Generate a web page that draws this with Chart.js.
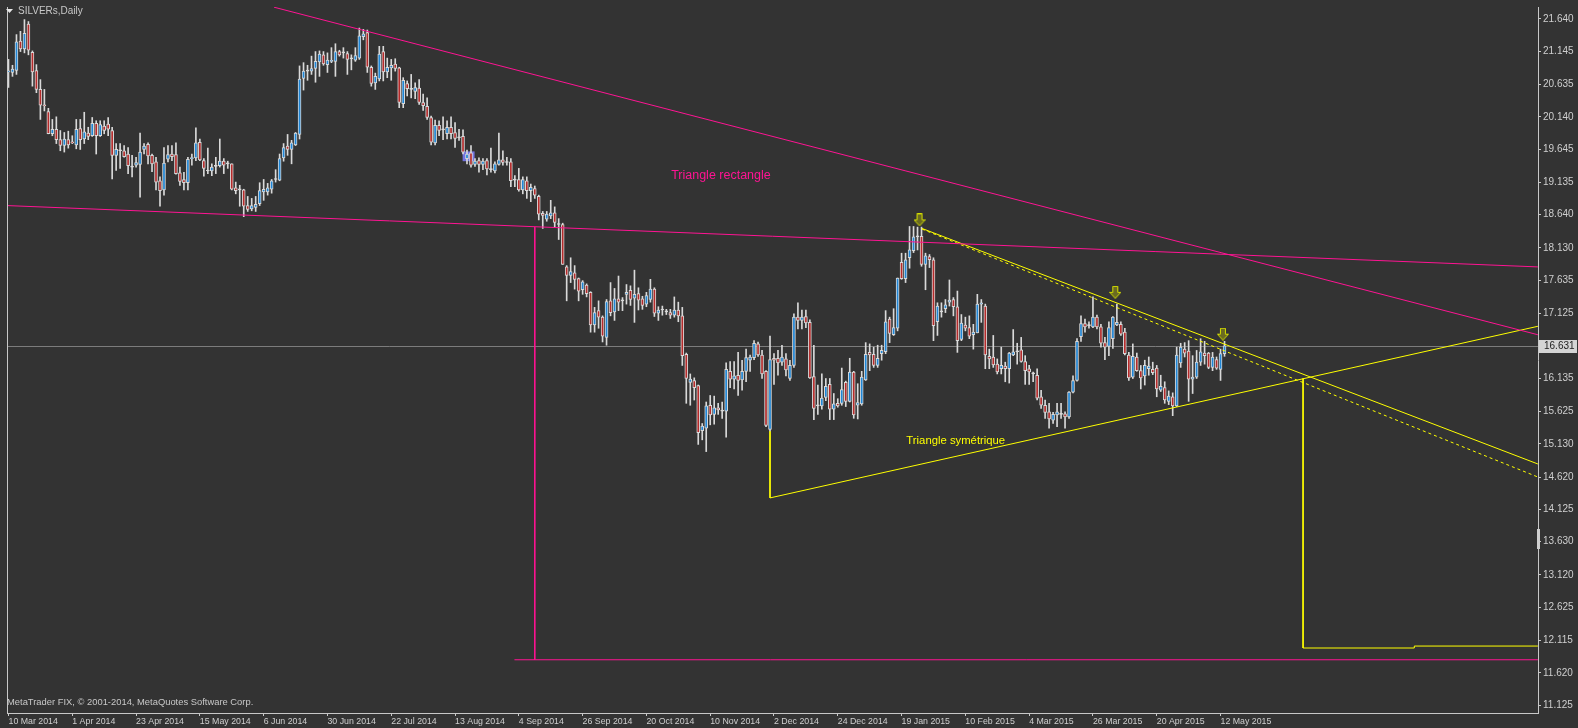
<!DOCTYPE html>
<html>
<head>
<meta charset="utf-8">
<title>SILVERs,Daily</title>
<script src="https://cdn.jsdelivr.net/npm/chart.js@4.4.1/dist/chart.umd.min.js"></script>
<style>
  html, body { margin: 0; padding: 0; background: #333333; overflow: hidden; }
  canvas { display: block; }
</style>
</head>
<body>
<canvas id="myChart" width="1578" height="728"></canvas>
<script>
// daily candles, bar 0 = 10 Mar 2014
const opens = [
  20.83, 20.82, 20.85, 21.30, 21.18, 21.56, 21.13, 20.85, 20.56, 20.32,
  20.22, 19.88, 19.95, 19.79, 19.70, 19.79, 19.75, 19.71, 19.96, 19.80,
  19.89, 19.85, 20.04, 19.85, 20.00, 20.03, 19.93, 19.55, 19.62, 19.62,
  19.57, 19.37, 19.40, 19.41, 19.64, 19.72, 19.55, 19.45, 19.16, 19.02,
  19.49, 19.57, 19.56, 19.28, 19.18, 19.13, 19.50, 19.51, 19.75, 19.47,
  19.31, 19.31, 19.38, 19.39, 19.46, 19.42, 19.42, 19.05, 19.02, 19.02,
  18.78, 18.73, 18.75, 18.81, 18.99, 18.99, 19.03, 19.18, 19.17, 19.51,
  19.69, 19.64, 19.71, 19.87, 20.73, 20.84, 20.84, 20.88, 20.98, 21.09,
  20.94, 20.99, 20.99, 21.14, 21.12, 21.11, 21.03, 21.01, 21.04, 21.37,
  21.43, 20.90, 20.66, 20.72, 21.14, 20.83, 20.89, 20.95, 20.89, 20.34,
  20.65, 20.56, 20.53, 20.58, 20.36, 20.30, 20.13, 19.74, 20.01, 19.94,
  19.88, 19.98, 19.90, 19.82, 19.84, 19.50, 19.59, 19.41, 19.47, 19.41,
  19.47, 19.33, 19.31, 19.41, 19.48, 19.44, 19.45, 19.17, 19.18, 19.02,
  19.16, 19.01, 19.04, 18.92, 18.66, 18.57, 18.62, 18.67, 18.49, 18.49,
  17.84, 17.71, 17.75, 17.66, 17.49, 17.56, 17.45, 16.95, 17.17, 17.07,
  16.76, 17.32, 17.15, 17.35, 17.32, 17.42, 17.48, 17.36, 17.43, 17.35,
  17.27, 17.34, 17.50, 17.13, 17.18, 17.15, 17.14, 17.10, 17.18, 17.09,
  16.50, 16.07, 16.10, 16.02, 15.33, 15.37, 15.72, 15.58, 15.68, 15.63,
  15.63, 16.24, 16.12, 16.18, 16.11, 16.24, 16.41, 16.45, 16.66, 16.49,
  16.24, 15.35, 16.44, 16.44, 16.38, 16.43, 16.13, 16.33, 17.07, 17.02,
  17.08, 16.99, 16.16, 15.71, 15.71, 15.84, 16.04, 15.66, 15.75, 15.75,
  16.07, 15.78, 16.23, 15.72, 15.74, 16.11, 16.53, 16.50, 16.33, 16.51,
  16.54, 17.04, 16.80, 16.90, 17.91, 17.66, 17.98, 18.09, 18.30, 18.31,
  17.88, 18.00, 17.95, 17.00, 17.15, 17.20, 17.30, 17.34, 17.23, 16.73,
  16.95, 16.91, 16.80, 16.83, 17.27, 17.24, 16.47, 16.46, 16.35, 16.28,
  16.32, 16.28, 16.49, 16.54, 16.57, 16.39, 16.28, 16.20, 16.18, 15.85,
  15.72, 15.62, 15.49, 15.57, 15.58, 15.59, 15.54, 15.92, 16.10, 16.77,
  16.97, 16.94, 16.92, 17.07, 16.92, 16.68, 16.62, 16.74, 16.95, 16.96,
  16.84, 16.49, 16.15, 16.46, 16.25, 16.17, 16.28, 16.27, 16.29, 15.95,
  15.99, 15.78, 15.85, 15.71, 16.37, 16.58, 16.55, 16.12, 16.15, 16.38,
  16.52, 16.52, 16.30, 16.42, 16.27, 16.51
];
const highs = [
  21.02, 20.93, 21.40, 21.45, 21.63, 21.60, 21.15, 20.94, 20.71, 20.56,
  20.27, 20.10, 20.14, 19.93, 19.90, 19.92, 19.85, 20.10, 20.10, 20.21,
  19.98, 20.13, 20.08, 20.08, 20.08, 20.13, 19.98, 19.73, 19.73, 19.70,
  19.67, 19.55, 19.52, 19.89, 19.73, 19.74, 19.57, 19.52, 19.22, 19.67,
  19.70, 19.70, 19.74, 19.37, 19.29, 19.52, 19.57, 19.97, 19.80, 19.50,
  19.66, 19.42, 19.52, 19.80, 19.50, 19.46, 19.42, 19.14, 19.09, 19.03,
  18.92, 18.89, 18.92, 19.13, 19.18, 19.12, 19.18, 19.33, 19.57, 19.73,
  19.87, 19.78, 19.90, 20.92, 20.97, 20.93, 21.07, 21.14, 21.15, 21.14,
  21.12, 21.20, 21.26, 21.16, 21.20, 21.14, 21.09, 21.20, 21.50, 21.48,
  21.47, 20.92, 20.81, 21.22, 21.22, 21.04, 21.02, 21.03, 20.90, 20.74,
  20.69, 20.79, 20.66, 20.71, 20.49, 20.43, 20.15, 20.09, 20.08, 20.14,
  20.08, 20.14, 20.05, 19.95, 19.94, 19.63, 19.70, 19.50, 19.51, 19.50,
  19.50, 19.66, 19.45, 19.89, 19.62, 19.52, 19.50, 19.24, 19.35, 19.22,
  19.22, 19.11, 19.08, 18.94, 18.69, 18.69, 18.86, 18.76, 18.58, 18.51,
  17.86, 17.98, 17.86, 17.67, 17.63, 17.58, 17.46, 17.22, 17.32, 17.09,
  17.34, 17.60, 17.51, 17.70, 17.37, 17.57, 17.55, 17.79, 17.52, 17.39,
  17.45, 17.65, 17.52, 17.23, 17.24, 17.19, 17.19, 17.38, 17.30, 17.22,
  16.52, 16.20, 16.14, 16.03, 15.44, 15.77, 15.87, 15.86, 15.75, 15.77,
  16.37, 16.39, 16.39, 16.53, 16.41, 16.58, 16.49, 16.71, 16.69, 16.56,
  16.25, 16.78, 16.51, 16.56, 16.64, 16.51, 16.41, 17.12, 17.29, 17.18,
  17.18, 17.03, 16.64, 16.03, 16.20, 16.13, 16.13, 15.90, 15.82, 16.29,
  16.09, 16.44, 16.24, 16.05, 16.24, 16.68, 16.66, 16.61, 16.64, 16.64,
  17.17, 17.07, 17.20, 17.67, 18.05, 18.05, 18.46, 18.46, 18.45, 18.45,
  18.05, 18.03, 17.98, 17.29, 17.29, 17.34, 17.64, 17.37, 17.47, 17.11,
  17.07, 17.09, 16.96, 17.42, 17.34, 17.27, 16.58, 16.79, 16.43, 16.61,
  16.38, 16.53, 16.88, 16.67, 16.76, 16.48, 16.33, 16.23, 16.28, 15.95,
  15.80, 15.75, 15.61, 15.75, 15.75, 15.62, 15.93, 16.17, 16.74, 17.09,
  17.04, 17.00, 17.38, 17.10, 16.96, 16.76, 17.00, 17.08, 17.27, 17.00,
  16.90, 16.53, 16.66, 16.52, 16.33, 16.41, 16.46, 16.38, 16.33, 16.18,
  16.08, 15.94, 15.91, 16.61, 16.67, 16.68, 16.71, 16.48, 16.56, 16.74,
  16.70, 16.53, 16.53, 16.46, 16.58, 16.70
];
const lows = [
  20.59, 20.76, 20.79, 21.14, 21.12, 21.09, 20.61, 20.51, 20.10, 20.23,
  19.88, 19.85, 19.73, 19.62, 19.60, 19.66, 19.73, 19.65, 19.64, 19.73,
  19.79, 19.84, 19.57, 19.84, 19.88, 19.85, 19.19, 19.32, 19.35, 19.52,
  19.27, 19.22, 19.37, 18.91, 19.57, 19.42, 19.30, 19.02, 18.77, 18.94,
  19.45, 19.47, 19.26, 19.09, 19.02, 19.02, 19.40, 19.47, 19.47, 19.23,
  19.27, 19.24, 19.27, 19.37, 19.27, 19.35, 19.02, 18.96, 18.77, 18.61,
  18.69, 18.70, 18.69, 18.78, 18.86, 18.94, 18.97, 19.14, 19.16, 19.46,
  19.55, 19.42, 19.70, 19.80, 20.55, 20.70, 20.79, 20.67, 20.76, 20.93,
  20.82, 20.97, 20.76, 21.07, 21.04, 20.79, 20.86, 20.99, 21.02, 21.32,
  20.82, 20.61, 20.56, 20.69, 20.69, 20.74, 20.70, 20.84, 20.28, 20.28,
  20.46, 20.43, 20.42, 20.33, 20.24, 20.10, 19.71, 19.71, 19.85, 19.79,
  19.80, 19.80, 19.67, 19.78, 19.57, 19.42, 19.37, 19.38, 19.29, 19.33,
  19.25, 19.29, 19.28, 19.40, 19.40, 19.40, 19.07, 19.07, 19.00, 18.96,
  18.89, 18.84, 18.89, 18.56, 18.43, 18.54, 18.58, 18.45, 18.26, 17.88,
  17.32, 17.60, 17.50, 17.32, 17.42, 17.38, 16.84, 16.84, 16.90, 16.69,
  16.64, 17.09, 17.02, 17.17, 17.17, 17.27, 17.25, 16.99, 17.18, 17.19,
  17.23, 17.30, 17.08, 17.02, 17.10, 17.11, 17.05, 17.07, 17.00, 16.33,
  15.75, 15.72, 15.80, 15.12, 15.19, 15.01, 15.42, 15.43, 15.58, 15.52,
  15.23, 15.99, 15.97, 15.87, 15.95, 16.08, 16.24, 16.42, 16.47, 16.13,
  15.39, 15.32, 16.04, 16.18, 16.33, 16.17, 16.10, 16.30, 16.89, 16.89,
  16.91, 16.13, 15.50, 15.58, 15.66, 15.79, 15.50, 15.50, 15.69, 15.72,
  15.70, 15.77, 15.52, 15.51, 15.72, 16.10, 16.25, 16.30, 16.30, 16.41,
  16.51, 16.68, 16.79, 16.86, 17.65, 17.60, 17.82, 18.06, 18.10, 17.85,
  17.49, 17.83, 16.71, 16.79, 17.07, 17.14, 17.24, 17.09, 16.53, 16.71,
  16.86, 16.74, 16.58, 16.83, 16.99, 16.28, 16.28, 16.30, 16.20, 16.20,
  16.08, 16.06, 16.48, 16.35, 16.38, 16.04, 16.04, 16.08, 15.80, 15.67,
  15.52, 15.37, 15.44, 15.39, 15.52, 15.37, 15.52, 15.91, 16.09, 16.70,
  16.84, 16.90, 16.91, 16.89, 16.61, 16.42, 16.48, 16.59, 16.94, 16.79,
  16.49, 16.10, 16.13, 16.24, 15.97, 16.03, 16.18, 16.19, 15.85, 15.93,
  15.75, 15.73, 15.56, 15.70, 16.30, 16.46, 15.78, 15.90, 16.13, 16.33,
  16.35, 16.28, 16.25, 16.27, 16.10, 16.47
];
const closes = [
  20.84, 20.87, 21.29, 21.18, 21.42, 21.16, 20.83, 20.56, 20.32, 20.31,
  19.88, 19.95, 19.79, 19.70, 19.80, 19.71, 19.74, 19.95, 19.79, 19.91,
  19.84, 20.04, 19.85, 20.02, 19.93, 19.95, 19.55, 19.64, 19.62, 19.53,
  19.39, 19.37, 19.44, 19.60, 19.69, 19.54, 19.42, 19.14, 19.01, 19.43,
  19.56, 19.53, 19.27, 19.15, 19.13, 19.49, 19.51, 19.74, 19.48, 19.35,
  19.31, 19.37, 19.38, 19.46, 19.40, 19.42, 19.03, 19.01, 19.02, 18.77,
  18.72, 18.78, 18.80, 19.01, 19.03, 19.05, 19.16, 19.18, 19.50, 19.67,
  19.64, 19.74, 19.89, 20.72, 20.84, 20.84, 20.88, 20.99, 21.10, 20.95,
  21.01, 21.00, 21.14, 21.09, 21.12, 21.02, 21.03, 21.08, 21.38, 21.41,
  20.90, 20.65, 20.76, 21.10, 20.83, 20.90, 20.93, 20.88, 20.36, 20.70,
  20.57, 20.56, 20.59, 20.36, 20.31, 20.13, 19.75, 20.01, 19.93, 19.94,
  19.98, 19.88, 19.81, 19.82, 19.60, 19.57, 19.40, 19.46, 19.41, 19.46,
  19.34, 19.33, 19.42, 19.48, 19.44, 19.44, 19.16, 19.17, 19.02, 19.18,
  19.01, 19.06, 18.94, 18.65, 18.63, 18.65, 18.67, 18.52, 18.49, 17.88,
  17.71, 17.77, 17.65, 17.47, 17.61, 17.43, 16.95, 17.14, 17.07, 16.78,
  17.31, 17.14, 17.35, 17.30, 17.32, 17.45, 17.34, 17.42, 17.33, 17.25,
  17.40, 17.50, 17.13, 17.18, 17.18, 17.15, 17.10, 17.18, 17.09, 16.48,
  16.13, 16.12, 15.99, 15.30, 15.40, 15.71, 15.57, 15.68, 15.65, 15.63,
  16.27, 16.12, 16.17, 16.10, 16.24, 16.45, 16.46, 16.67, 16.49, 16.20,
  15.41, 16.42, 16.41, 16.37, 16.46, 16.26, 16.33, 17.07, 17.02, 17.07,
  16.98, 16.14, 15.67, 15.71, 15.83, 16.01, 15.66, 15.74, 15.71, 15.96,
  15.78, 16.23, 15.57, 15.76, 16.15, 16.50, 16.49, 16.33, 16.44, 16.56,
  17.00, 16.82, 16.91, 17.67, 17.66, 17.95, 18.10, 18.30, 18.30, 17.88,
  18.01, 17.95, 16.94, 17.24, 17.15, 17.26, 17.33, 17.23, 16.71, 16.98,
  16.90, 16.78, 16.84, 17.27, 17.29, 16.49, 16.43, 16.34, 16.23, 16.33,
  16.28, 16.52, 16.54, 16.54, 16.39, 16.25, 16.23, 16.20, 15.83, 15.72,
  15.61, 15.51, 15.58, 15.62, 15.58, 15.54, 15.92, 16.10, 16.70, 16.97,
  16.92, 16.94, 17.07, 16.92, 16.67, 16.61, 16.91, 17.07, 16.99, 16.81,
  16.51, 16.14, 16.47, 16.25, 16.14, 16.33, 16.32, 16.22, 15.97, 16.01,
  15.80, 15.86, 15.71, 16.49, 16.61, 16.52, 16.12, 16.15, 16.38, 16.54,
  16.48, 16.30, 16.46, 16.29, 16.51, 16.63
];

const tickBars = [0, 16, 32, 48, 64, 80, 96, 112, 128, 144, 160, 176, 192, 208, 224, 240, 256, 272, 288, 304];
const dateLabels = ['10 Mar 2014', '1 Apr 2014', '23 Apr 2014', '15 May 2014', '6 Jun 2014', '30 Jun 2014',
  '22 Jul 2014', '13 Aug 2014', '4 Sep 2014', '26 Sep 2014', '20 Oct 2014', '10 Nov 2014', '2 Dec 2014',
  '24 Dec 2014', '19 Jan 2015', '10 Feb 2015', '4 Mar 2015', '26 Mar 2015', '20 Apr 2015', '12 May 2015'];
const priceTicks = [21.640, 21.145, 20.635, 20.140, 19.645, 19.135, 18.640, 18.130, 17.635, 17.125,
  16.135, 15.625, 15.130, 14.620, 14.125, 13.630, 13.120, 12.625, 12.115, 11.620, 11.125];
const lastPrice = 16.631;

// drawn objects, points as [bar, price]
const rectTop = [[66.6, 21.82], [383.6, 16.80]];
const rectBase = [[-0.4, 18.78], [383.6, 17.84]];
const rectDrop = [[132, 18.45], [132, 11.82]];
const rectTarget = [[126.9, 11.82], [383.6, 11.82]];
const symSupport = [[191, 14.30], [383.6, 16.93]];
const symLeg = [[191, 15.32], [191, 14.30]];
const symResist = [[229.1, 18.43], [383.6, 14.82]];
const symResistDot = [[229.1, 18.42], [383.6, 14.62]];
const symDrop = [[324.7, 16.13], [324.7, 12.00]];
const symTarget = [[324.7, 12.00], [352.6, 12.00], [352.6, 12.03], [383.6, 12.03]];

const arrowBars = [228.5, 277.6, 304.6];
const arrowPrices = [18.56, 17.45, 16.81];

const noteTexts = ['Triangle rectangle', 'Triangle symétrique'];
const noteBars = [166.2, 225.2];
const notePrices = [19.24, 15.18];

const selBars = [113.9, 116.9];
const selPrices = [19.61, 19.46];

const BULL = '#1f86d6', BEAR = '#b52b2b', EDGE = '#d9d9d9';
const PINK = '#ff1493', YELLOW = '#ffff00';

function pts(a) { return a.map(p => ({ x: p[0], y: p[1] })); }

function trend(arr, color, dash) {
  return {
    type: 'line', data: pts(arr), borderColor: color, borderWidth: 1,
    borderDash: dash || [], pointRadius: 0, fill: false, tension: 0, order: 2
  };
}

function makeArrow() {
  const c = document.createElement('canvas');
  c.width = 12; c.height = 13;
  const g = c.getContext('2d');
  g.beginPath();
  g.moveTo(3.5, 0.5); g.lineTo(8.5, 0.5); g.lineTo(8.5, 6.5); g.lineTo(11.5, 6.5);
  g.lineTo(6, 12.5); g.lineTo(0.5, 6.5); g.lineTo(3.5, 6.5); g.closePath();
  g.fillStyle = '#6a6a22';
  g.fill();
  g.strokeStyle = '#d6e000';
  g.lineWidth = 1;
  g.stroke();
  return c;
}

const bodyColors = opens.map((o, i) => closes[i] > o ? BULL : (closes[i] < o ? BEAR : EDGE));

const marks = {
  id: 'marks',
  beforeDraw(chart) {
    const c = chart.ctx;
    c.save();
    c.fillStyle = '#333333';
    c.fillRect(0, 0, chart.width, chart.height);
    c.restore();
  },
  beforeDatasetsDraw(chart) {
    const { ctx, chartArea, scales } = chart;
    const x = scales.x, y = scales.y;
    ctx.save();
    const x0 = x.getPixelForValue(selBars[0]), x1 = x.getPixelForValue(selBars[1]);
    const y0 = y.getPixelForValue(selPrices[0]), y1 = y.getPixelForValue(selPrices[1]);
    ctx.fillStyle = 'rgba(128,128,255,0.85)';
    ctx.fillRect(x0, y0, x1 - x0, y1 - y0);
    const py = Math.round(y.getPixelForValue(lastPrice)) + 0.5;
    ctx.strokeStyle = '#7c7c7c';
    ctx.lineWidth = 1;
    ctx.beginPath();
    ctx.moveTo(chartArea.left, py);
    ctx.lineTo(chartArea.right, py);
    ctx.stroke();
    ctx.restore();
  },
  afterDraw(chart) {
    const { ctx, chartArea, scales } = chart;
    const x = scales.x, y = scales.y;
    ctx.save();
    // left frame
    ctx.strokeStyle = '#c8c8c8';
    ctx.lineWidth = 1;
    ctx.beginPath();
    ctx.moveTo(chartArea.left + 0.5, chartArea.top);
    ctx.lineTo(chartArea.left + 0.5, chartArea.bottom);
    ctx.stroke();

    // notes
    ctx.textBaseline = 'middle';
    ctx.textAlign = 'left';
    ctx.font = '12.5px "Liberation Sans", Arial, sans-serif';
    ctx.fillStyle = PINK;
    ctx.fillText(noteTexts[0], x.getPixelForValue(noteBars[0]), y.getPixelForValue(notePrices[0]));
    ctx.font = '11.3px "Liberation Sans", Arial, sans-serif';
    ctx.fillStyle = YELLOW;
    ctx.fillText(noteTexts[1], x.getPixelForValue(noteBars[1]), y.getPixelForValue(notePrices[1]));

    // header
    ctx.fillStyle = '#e6e6e6';
    ctx.beginPath();
    ctx.moveTo(6, 9); ctx.lineTo(13, 9); ctx.lineTo(9.5, 13); ctx.closePath();
    ctx.fill();
    ctx.font = '10px "Liberation Sans", Arial, sans-serif';
    ctx.fillStyle = '#c8c8c8';
    ctx.fillText('SILVERs,Daily', 18, 11);

    ctx.font = '9.4px "Liberation Sans", Arial, sans-serif';
    ctx.fillText('MetaTrader FIX, \u00a9 2001-2014, MetaQuotes Software Corp.', 7, 702);

    // bid marker
    const py = Math.round(y.getPixelForValue(lastPrice));
    ctx.fillStyle = '#d4d4d4';
    ctx.fillRect(chartArea.right + 1, py - 6, 38, 13);
    ctx.fillStyle = '#222222';
    ctx.font = '10px "Liberation Sans", Arial, sans-serif';
    ctx.fillText(lastPrice.toFixed(3), chartArea.right + 6, py + 0.5);

    // scale handle
    ctx.fillStyle = '#cfcfcf';
    ctx.fillRect(chartArea.right - 1, 529, 3, 20);
    ctx.restore();
  }
};

const ctx = document.getElementById('myChart').getContext('2d');
Chart.defaults.font.family = '"Liberation Sans", Arial, sans-serif';

const myChart = new Chart(ctx, {
  type: 'bar',
  data: {
    datasets: [
      {
        label: 'arrows', type: 'line', showLine: false,
        data: arrowBars.map((b, i) => ({ x: b, y: arrowPrices[i] })),
        pointStyle: makeArrow(), pointRadius: 6, order: 0
      },
      trend(rectTop, PINK),
      trend(rectBase, PINK),
      trend(rectDrop, PINK),
      trend(rectTarget, PINK),
      trend(symSupport, YELLOW),
      trend(symLeg, YELLOW),
      trend(symResist, YELLOW),
      trend(symResistDot, YELLOW, [3, 3]),
      trend(symDrop, YELLOW),
      trend(symTarget, YELLOW),
      {
        label: 'bodies',
        data: opens.map((o, i) => ({ x: i, y: [o, closes[i]] })),
        backgroundColor: bodyColors,
        borderColor: EDGE,
        borderWidth: 1,
        borderSkipped: false,
        barThickness: 3,
        minBarLength: 1,
        grouped: false,
        order: 3
      },
      {
        label: 'wicks',
        data: opens.map((o, i) => ({ x: i, y: [lows[i], highs[i]] })),
        backgroundColor: EDGE,
        borderWidth: 0,
        barThickness: 1,
        grouped: false,
        order: 4
      }
    ]
  },
  options: {
    responsive: false,
    animation: false,
    events: [],
    layout: { padding: { left: 2, top: 2, right: 0, bottom: 0 } },
    plugins: { legend: { display: false }, tooltip: { enabled: false } },
    scales: {
      x: {
        type: 'linear',
        min: -0.375,
        max: 383.625,
        offset: false,
        grid: { display: true, offset: false, drawOnChartArea: false, drawTicks: true, tickLength: 3, color: '#c8c8c8' },
        border: { display: true, color: '#c8c8c8' },
        afterBuildTicks: s => { s.ticks = tickBars.map(v => ({ value: v })); },
        afterFit: s => { s.height = 15; s.paddingLeft = 0; s.paddingRight = 0; },
        ticks: {
          autoSkip: false, maxRotation: 0, align: 'start', padding: 0,
          color: '#cfcfcf', font: { size: 8.8 },
          callback: v => dateLabels[tickBars.indexOf(v)]
        }
      },
      y: {
        type: 'linear',
        position: 'right',
        min: 11.004,
        max: 21.823,
        grid: { display: true, drawOnChartArea: false, drawTicks: true, tickLength: 3, color: '#c8c8c8' },
        border: { display: true, color: '#c8c8c8' },
        afterBuildTicks: s => { s.ticks = priceTicks.map(v => ({ value: v })); },
        afterFit: s => { s.width = 40; s.paddingTop = 0; s.paddingBottom = 0; },
        ticks: {
          autoSkip: false, padding: 2,
          color: '#cfcfcf', font: { size: 10 },
          callback: v => v.toFixed(3)
        }
      }
    }
  },
  plugins: [marks]
});
</script>
</body>
</html>
